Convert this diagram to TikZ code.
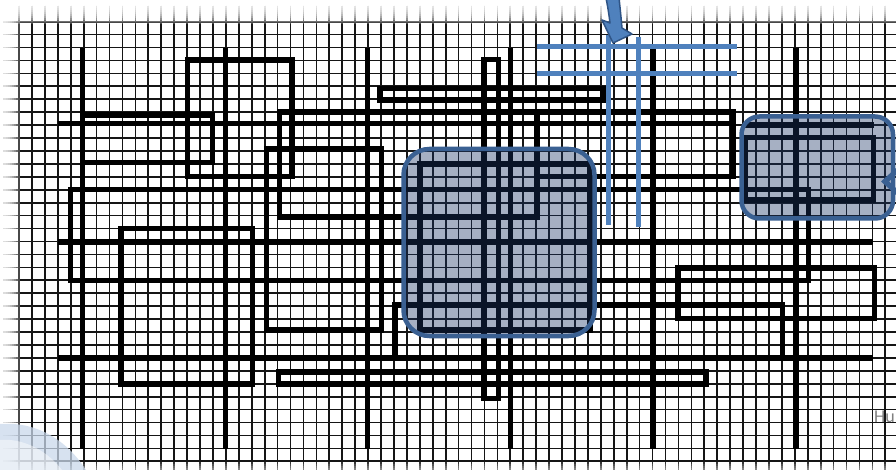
\documentclass[tikz,border=0pt]{standalone}
\usepackage{fontspec}
\setmainfont{Carlito}
\definecolor{gridc}{HTML}{151515}
\definecolor{lineblue}{HTML}{4F81BD}
\definecolor{boxborder}{HTML}{3A6092}
\definecolor{boxfill}{HTML}{1C3667}
\definecolor{arrowborder}{HTML}{2F5485}
\begin{document}
\begin{tikzpicture}[x=1pt,y=-1pt,
  gridline/.style={line width=1.7pt, gridc},
  heavy/.style={line width=5.4pt, black},
  blueline/.style={line width=5pt, lineblue},
  bluebox/.style={line width=4.5pt, draw=boxborder, fill=boxfill, fill opacity=0.39, draw opacity=1, rounded corners=26pt},
  smallbox/.style={line width=4.5pt, draw=boxborder, fill=boxfill, fill opacity=0.39, draw opacity=1, rounded corners=18pt}]
\useasboundingbox (0,0) rectangle (896,470);
\clip (0,0) rectangle (896,470);
\fill[white] (0,0) rectangle (896,470);
% grid
\foreach \i in {0,...,67} \draw[gridline] ({19+12.93*\i},6) -- ({19+12.93*\i},470);
\foreach \j in {0,...,34} \draw[gridline] (3,{21.7+12.93*\j}) -- (896,{21.7+12.93*\j});
% soft edges
\foreach \h in {8,10,...,24} \fill[white, opacity=0.22] (0,0) rectangle (896,\h);
\foreach \w in {6,8,...,20} \fill[white, opacity=0.22] (0,0) rectangle (\w,470);
\foreach \h in {462,464,...,470} \fill[white, opacity=0.15] (0,\h) rectangle (896,470);
% long vertical lines
\foreach \x in {82.7,225.5,367.5,510.5,653,796} \draw[heavy] (\x,48) -- (\x,448.5);
% long horizontal lines
\draw[heavy] (58.3,123.5) -- (733,123.5);
\draw[heavy] (744,125) -- (873.5,125);
\draw[heavy] (58.3,242) -- (873,242);
\draw[heavy] (58.3,358) -- (873,358);
% rectangles
\draw[heavy] (187.3,60) rectangle (292,176.5);
\draw[heavy] (82.7,115) rectangle (212.7,162.3);
\draw[heavy] (70.7,189.3) rectangle (808.5,280.5);
\draw[heavy] (266.7,149) rectangle (381.7,330);
\draw[heavy] (121,228.3) rectangle (252.5,384);
\draw[heavy] (279.5,112) rectangle (537,217);
\draw[heavy] (537,112) rectangle (733,176.7);
\draw[heavy] (420,164) rectangle (590,330);
\draw[heavy] (484,59.5) rectangle (498.5,398.3);
\draw[heavy] (380,88.3) rectangle (603,100);
\draw[heavy] (395,305) rectangle (782.7,358);
\draw[heavy] (678,268) rectangle (874.3,318.3);
\draw[heavy] (278.3,372) rectangle (706,384);
\draw[heavy] (745,137.5) rectangle (873.5,200);
% blue translucent boxes
\draw[bluebox] (403.5,149) rectangle (594.5,336);
\draw[smallbox] (741.5,116.5) rectangle (893,218.5);
% chevron at right edge
\fill[boxborder] (897,167) -- (881,181.5) -- (897,196) -- (897,189) -- (889,181.5) -- (897,174) -- cycle;
% blue lines
\draw[blueline] (536.7,46.7) -- (736.7,46.7);
\draw[blueline] (536.7,73.3) -- (736.7,73.3);
\draw[blueline] (608.3,35) -- (608.3,225);
\draw[blueline] (638.3,36.7) -- (638.3,226.7);
% curved arrow at top
\filldraw[fill=lineblue, draw=arrowborder, line width=1.5pt, line join=round]
  (606,-2) .. controls (608,8) and (609,15) .. (610,23) -- (602,20) -- (613,43) -- (632,34) -- (622,28)
  .. controls (621,17) and (620,7) .. (619,-2) -- cycle;
% faint blob bottom left
\fill[lineblue!30, opacity=0.75] (0,424) .. controls (25,422) and (60,430) .. (86,470) -- (0,470) -- cycle;
\fill[white, opacity=0.45] (0,440) .. controls (20,438) and (45,448) .. (62,470) -- (0,470) -- cycle;
% text
\node[anchor=base east, inner sep=0pt, text=black!50, font=\fontsize{18}{18}\selectfont] (hu) at (895,422) {Hu};
\end{tikzpicture}
\end{document}
